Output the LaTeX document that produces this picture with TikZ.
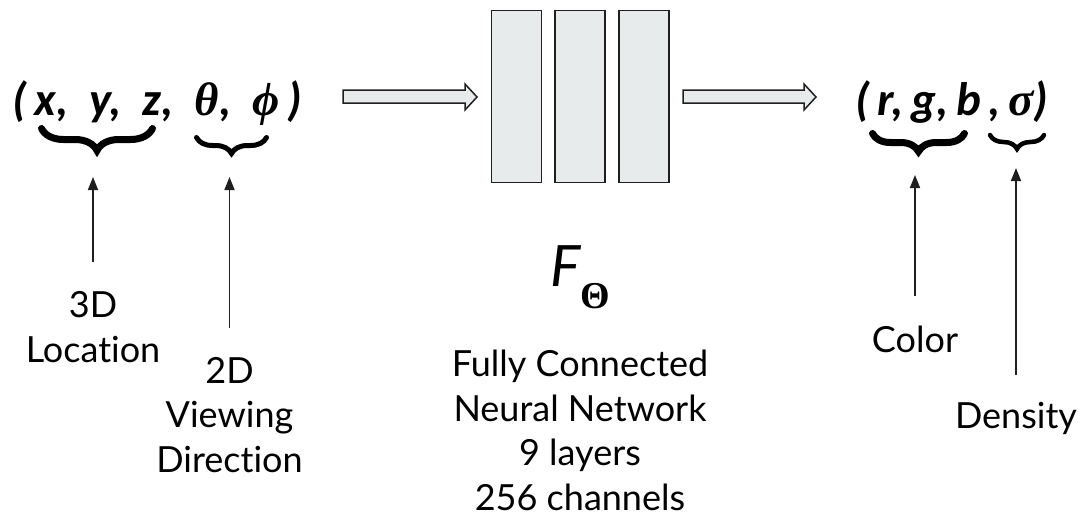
\documentclass[tikz,border=0pt]{standalone}
\usepackage[no-math]{fontspec}
\setmainfont{Lato}[Ligatures=NoCommon]
\newfontfamily\tuplefont{Carlito}
\newfontfamily\greekfont{Liberation Serif}
\usetikzlibrary{decorations.pathreplacing,arrows.meta,calc}
\definecolor{boxfill}{HTML}{E8EBEC}
\definecolor{ink}{HTML}{1F1F1F}
\newcommand{\gk}[1]{{\greekfont\bfseries\itshape #1}}
\begin{document}
\begin{tikzpicture}[x=1pt,y=-1pt,
 lbl/.style={font=\fontsize{36}{44.5}\selectfont, align=center, inner sep=0pt, anchor=base},
 tup/.style={font=\tuplefont\bfseries\itshape\fontsize{47}{50}\selectfont, inner sep=0pt, anchor=base west},
 layer/.style={draw=ink, fill=boxfill, line width=1.5pt, minimum width=50pt, minimum height=172pt, inner sep=0pt},
 blockarrow/.style={draw=ink, fill=boxfill, line width=1.5pt, line join=miter},
 ptr/.style={draw=ink, line width=1.6pt, -{Triangle[length=13pt,width=10pt]}},
 brc/.style={decorate, decoration={brace, mirror, amplitude=#1}, line cap=round, draw=black}]
\useasboundingbox (0,0) rectangle (1083,519);

% tuples
\node[tup] (input) at (12,115) {(\,x,\ \ y,\ \ z,\ \ \gk{θ},\ \ \gk{ϕ}\,)};
\node[tup] (output) at (855,115) {(\,r,\,g,\,b\,,\,\gk{σ})};

% braces
\draw[brc=22, line width=7pt] (41.5,128.5) -- (152.5,128.5);
\draw[brc=16, line width=5pt] (196.5,137.5) -- (266.5,137.5);
\draw[brc=18, line width=7pt] (872.5,133.5) -- (964.5,133.5);
\draw[brc=14, line width=4.5pt] (990,135) -- (1044,135);

% block arrows
\draw[blockarrow] (343,90) -- (465,90) -- (465,84) -- (477,97) -- (465,110) -- (465,103) -- (343,103) -- cycle;
\draw[blockarrow] (683,90) -- (804,90) -- (804,84) -- (816,97) -- (804,110) -- (804,103) -- (683,103) -- cycle;

% layers
\node[layer] (l1) at (516.5,96.5) {};
\node[layer] (l2) at (580,96.5) {};
\node[layer] (l3) at (644,96.5) {};

% F_Theta
\node[inner sep=0pt, anchor=base west, font=\itshape\fontsize{57}{60}\selectfont] (F) at (550,286) {F};
\node[inner sep=0pt, anchor=base west, font=\greekfont\bfseries\fontsize{38}{40}\selectfont] (Th) at (580,308) {Θ};

% labels (anchor base = baseline of the last line)
\node[lbl] (loc) at (93,362) {3D\\Location};
\node[lbl] (dir) at (229.5,472) {2D\\Viewing\\Direction};
\node[lbl] (net) at (580,510) {Fully Connected\\Neural Network\\9 layers\\256 channels};
\node[lbl] (col) at (915,352) {Color};
\node[lbl] (den) at (1016,428) {Density};

% arrow tips
\coordinate (t3d) at (93,177);
\coordinate (t2d) at (229.5,177);
\coordinate (tcol) at (915,175);
\coordinate (tden) at (1016,168);

\draw[ptr, shorten <=29pt] (loc.north) -- (t3d);
\draw[ptr, shorten <=29pt] (dir.north) -- (t2d);
\draw[ptr, shorten <=29pt] (col.north) -- (tcol);
\draw[ptr, shorten <=27pt] (den.north) -- (tden);
\end{tikzpicture}
\end{document}
